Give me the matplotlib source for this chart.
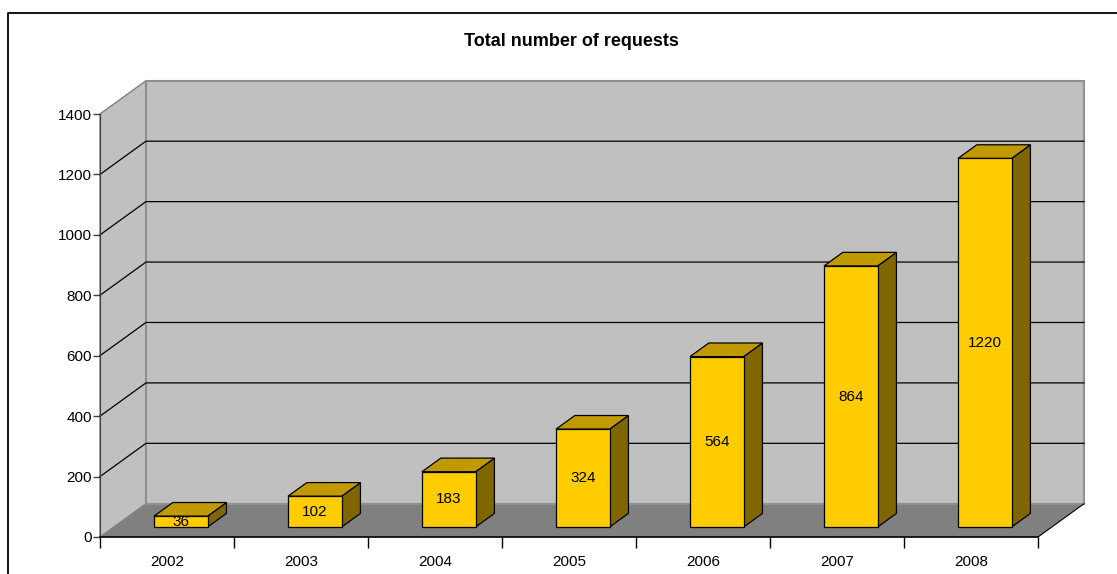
import numpy as np
import matplotlib.pyplot as plt
from matplotlib.patches import Polygon
from matplotlib.lines import Line2D

plt.rcParams['font.family'] = ['Liberation Sans', 'DejaVu Sans']

# data
years = ['2002', '2003', '2004', '2005', '2006', '2007', '2008']
requests = [36, 102, 183, 324, 564, 864, 1220]
y_ticks = [0, 200, 400, 600, 800, 1000, 1200, 1400]
title = 'Total number of requests'

# 3d look (depth expressed in data units)
DX = 0.343          # depth shift along x (categories)
DY = 110.0          # depth shift along y (values)
ymax = 1400
f0, f1 = 0.30, 0.71 # bar front/back as fraction of depth
bw = 0.40           # bar width

fig = plt.figure(figsize=(11.17, 5.74), dpi=100)
ax = fig.add_axes([100/1117, 37/574, 938/1117, 423/574])
ax.set_xlim(-0.5, len(years) - 0.5)
ax.set_ylim(0, ymax)

x0, x1 = -0.5, len(years) - 0.5
wall = '#C0C0C0'
# floor
ax.add_patch(Polygon([(x0, 0), (x1, 0), (x1 + DX, DY), (x0 + DX, DY)],
                     closed=True, fc='#808080', ec='none', clip_on=False, zorder=1))
ax.plot([x1, x1 + DX], [0, DY], color='black', lw=0.8, clip_on=False, zorder=2)
# side wall
ax.add_patch(Polygon([(x0, 0), (x0, ymax), (x0 + DX, ymax + DY), (x0 + DX, DY)],
                     closed=True, fc=wall, ec='#808080', lw=1, clip_on=False, zorder=1))
# back wall
ax.add_patch(Polygon([(x0 + DX, DY), (x1 + DX, DY), (x1 + DX, ymax + DY), (x0 + DX, ymax + DY)],
                     closed=True, fc=wall, ec='#909090', lw=1.5, clip_on=False, zorder=1))
# grid lines
for v in y_ticks[1:-1]:
    ax.plot([x0, x0 + DX, x1 + DX], [v, v + DY, v + DY], color='black', lw=0.9,
            clip_on=False, zorder=2)

# bars
for i, (lab, val) in enumerate(zip(years, requests)):
    xl = i - bw / 2 + f0 * DX
    yb = f0 * DY
    d = (f1 - f0)
    front = [(xl, yb), (xl + bw, yb), (xl + bw, yb + val), (xl, yb + val)]
    top = [(xl, yb + val), (xl + bw, yb + val), (xl + bw + d * DX, yb + val + d * DY),
           (xl + d * DX, yb + val + d * DY)]
    side = [(xl + bw, yb), (xl + bw + d * DX, yb + d * DY),
            (xl + bw + d * DX, yb + val + d * DY), (xl + bw, yb + val)]
    for pts, c in ((side, '#806600'), (top, '#C09A00'), (front, '#FFCC00')):
        ax.add_patch(Polygon(pts, closed=True, fc=c, ec='black', lw=0.9,
                             clip_on=False, zorder=3, joinstyle='miter'))
    ax.text(i + f0 * DX, yb + val / 2, str(val), ha='center', va='center',
            fontsize=11, zorder=4)

# axes styling
for s in ('top', 'right'):
    ax.spines[s].set_visible(False)
ax.spines['left'].set_color('#404040')
ax.spines['bottom'].set_linewidth(1.2)
ax.set_yticks(y_ticks)
ax.tick_params(axis='y', length=5, width=1, labelsize=11, pad=1, color='#404040')
ax.set_xticks(np.arange(-0.5, len(years)), minor=False)
ax.set_xticklabels([])
ax.set_xticks(np.arange(len(years)), minor=True)
ax.set_xticklabels(years, minor=True)
ax.tick_params(axis='x', which='major', length=8, width=1)
ax.tick_params(axis='x', which='minor', length=0, labelsize=11, pad=13)
ax.patch.set_visible(False)

fig.text(571/1117, 1 - 41/574, title, ha='center', va='center',
         fontsize=13, fontweight='bold')

# chart area border (left and top edges)
fig.add_artist(Line2D([8/1117, 8/1117, 1], [0, 1 - 13/574, 1 - 13/574],
                      transform=fig.transFigure, color='black', lw=1.3))

fig.savefig('out.png', dpi=100)
